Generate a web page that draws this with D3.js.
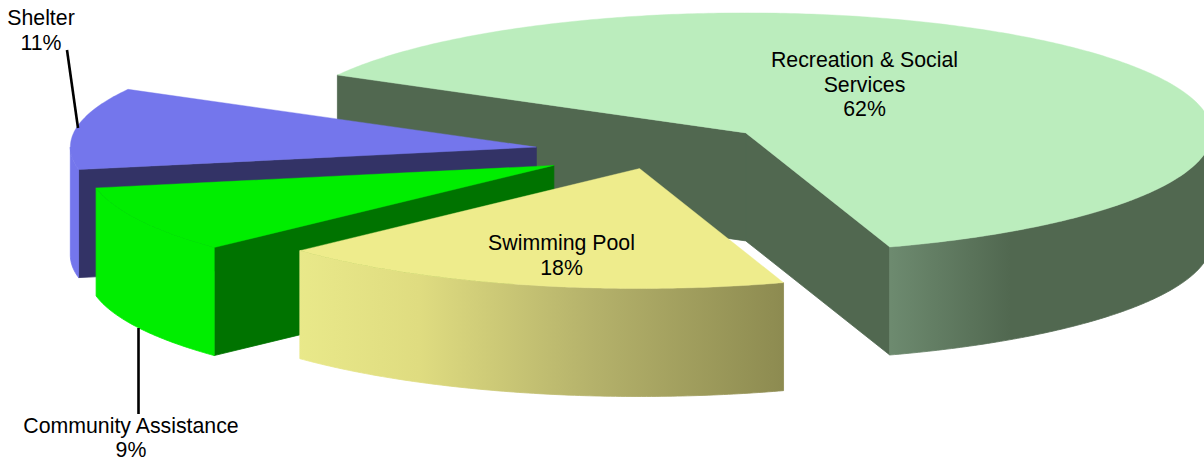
<!DOCTYPE html>
<html>
<head>
<meta charset="utf-8">
<script src="https://cdn.jsdelivr.net/npm/d3@7/dist/d3.min.js"></script>
<style>
  html, body { margin: 0; padding: 0; background: #fff; }
  svg { display: block; }
  text { font-family: "Liberation Sans", Arial, sans-serif; font-size: 21.3px; fill: #000; text-anchor: middle; }
</style>
</head>
<body>
<svg id="chart" width="1204" height="461"></svg>
<script>
// Budget shares, drawn clockwise from the back-left of the pie
const categories = ["Recreation & Social Services", "Swimming Pool", "Community Assistance", "Shelter"];
const shares = [62, 18, 9, 11];
const explode = [0.25, 0.142, 0.246, 0.26];

const topColors = ["#bbedbd", "#eeec8c", "#00ee00", "#7476ec"];
const faceColors = ["#516850", "#eeec8c", "#007300", "#333366"];

// Label lines per slice, with the anchor in page coordinates
const labelLines = [
  ["Recreation & Social", "Services", "62%"],
  ["Swimming Pool", "18%"],
  ["Community Assistance", "9%"],
  ["Shelter", "11%"]
];
const labelAnchors = [[864.5, 67], [561.5, 250], [131, 433], [41, 25]];
const labelSteps = [24.7, 24.7, 23.5, 24.7];
const leaders = [
  [[67, 50], [78, 128]],
  [[138.5, 328], [138.5, 414]]
];

const cx = 656, cy = 152;   // pie centre before slices are pulled out
const rx = 466, ry = 120;   // foreshortened radii
const depth = 108;          // extrusion height

const svg = d3.select("#chart");
const defs = svg.append("defs");

// Side-wall shading runs left to right across the curved rim
function wallGradient(id, x1, x2, stops) {
  const g = defs.append("linearGradient").attr("id", id)
    .attr("gradientUnits", "userSpaceOnUse")
    .attr("x1", x1).attr("x2", x2).attr("y1", 0).attr("y2", 0);
  stops.forEach(([o, c]) => g.append("stop").attr("offset", o).attr("stop-color", c));
  return `url(#${id})`;
}
const wallFills = [
  wallGradient("wall-rec", 891, 1010, [[0, "#6d8a6f"], [1, "#516850"]]),
  wallGradient("wall-pool", 296, 787, [[0, "#e9e98a"], [0.25, "#dfdc80"], [0.6, "#b5b26b"], [1, "#8c8a50"]]),
  "#00ee00",
  "#7476ec"
];

// d3.pie measures from 12 o'clock; the first slice starts just before 300 degrees
const startAngle = 298.8 * Math.PI / 180;
const pie = d3.pie().sort(null).value(d => d)
  .startAngle(startAngle).endAngle(startAngle + 2 * Math.PI);
const slices = pie(shares);

// Screen angle: 0 along +x, growing clockwise
const toT = a => a - Math.PI / 2;
const path = d3.line();

function slicePlacement(s, i) {
  const mid = toT((s.startAngle + s.endAngle) / 2);
  return {
    x: cx + explode[i] * rx * Math.cos(mid),
    y: cy + explode[i] * ry * Math.sin(mid),
    t0: toT(s.startAngle),
    t1: toT(s.endAngle)
  };
}

function rimPoints(p, t0, t1, dy) {
  const n = Math.max(2, Math.ceil((t1 - t0) * 90));
  return d3.range(n + 1).map(k => {
    const t = t0 + (t1 - t0) * k / n;
    return [p.x + rx * Math.cos(t), p.y + ry * Math.sin(t) + dy];
  });
}

// Flat cut face from the apex out to the rim at angle t
function cutFace(p, t) {
  const ex = p.x + rx * Math.cos(t), ey = p.y + ry * Math.sin(t);
  return path([[p.x, p.y], [ex, ey], [ex, ey + depth], [p.x, p.y + depth]]) + "Z";
}

// Parts of the rim that face the viewer: angles within [0, 180] degrees, modulo a turn
function frontRanges(t0, t1) {
  const out = [];
  for (let k = -1; k <= 2; k++) {
    const lo = Math.max(t0, k * 2 * Math.PI), hi = Math.min(t1, k * 2 * Math.PI + Math.PI);
    if (hi > lo) out.push([lo, hi]);
  }
  return out;
}

// Back-to-front: large slice, then shelter, community, pool
const drawOrder = [0, 3, 2, 1];
const group = svg.append("g");

drawOrder.forEach(i => {
  const p = slicePlacement(slices[i], i);

  // Cut faces turned towards the viewer share one path, so no seam shows at the apex
  let faces = "";
  if (Math.cos(p.t0) < 0) faces += cutFace(p, p.t0);
  if (Math.cos(p.t1) > 0) faces += cutFace(p, p.t1);
  if (faces) {
    group.append("path").attr("d", faces)
      .attr("fill", faceColors[i]).attr("stroke", faceColors[i]).attr("stroke-width", 0.8);
  }

  frontRanges(p.t0, p.t1).forEach(([lo, hi]) => {
    const upper = rimPoints(p, lo, hi, 0);
    const lower = rimPoints(p, lo, hi, depth).reverse();
    group.append("path").attr("d", path(upper.concat(lower)) + "Z")
      .attr("fill", wallFills[i]).attr("stroke", wallFills[i]).attr("stroke-width", 0.8);
  });

  group.append("path")
    .attr("d", path([[p.x, p.y]].concat(rimPoints(p, p.t0, p.t1, 0))) + "Z")
    .attr("fill", topColors[i]).attr("stroke", topColors[i]).attr("stroke-width", 0.4);
});

// Leader lines for the two outside labels
svg.append("g").selectAll("line").data(leaders).join("line")
  .attr("x1", d => d[0][0]).attr("y1", d => d[0][1])
  .attr("x2", d => d[1][0]).attr("y2", d => d[1][1])
  .attr("stroke", "#000").attr("stroke-width", 2.6);

// Category and percentage labels
const labels = svg.append("g").selectAll("text").data(labelLines).join("text")
  .attr("aria-label", (d, i) => categories[i]);
labels.each(function (lines, i) {
  d3.select(this).selectAll("tspan").data(lines).join("tspan")
    .attr("x", labelAnchors[i][0])
    .attr("y", (l, k) => labelAnchors[i][1] + k * labelSteps[i])
    .text(l => l);
});
</script>
</body>
</html>
